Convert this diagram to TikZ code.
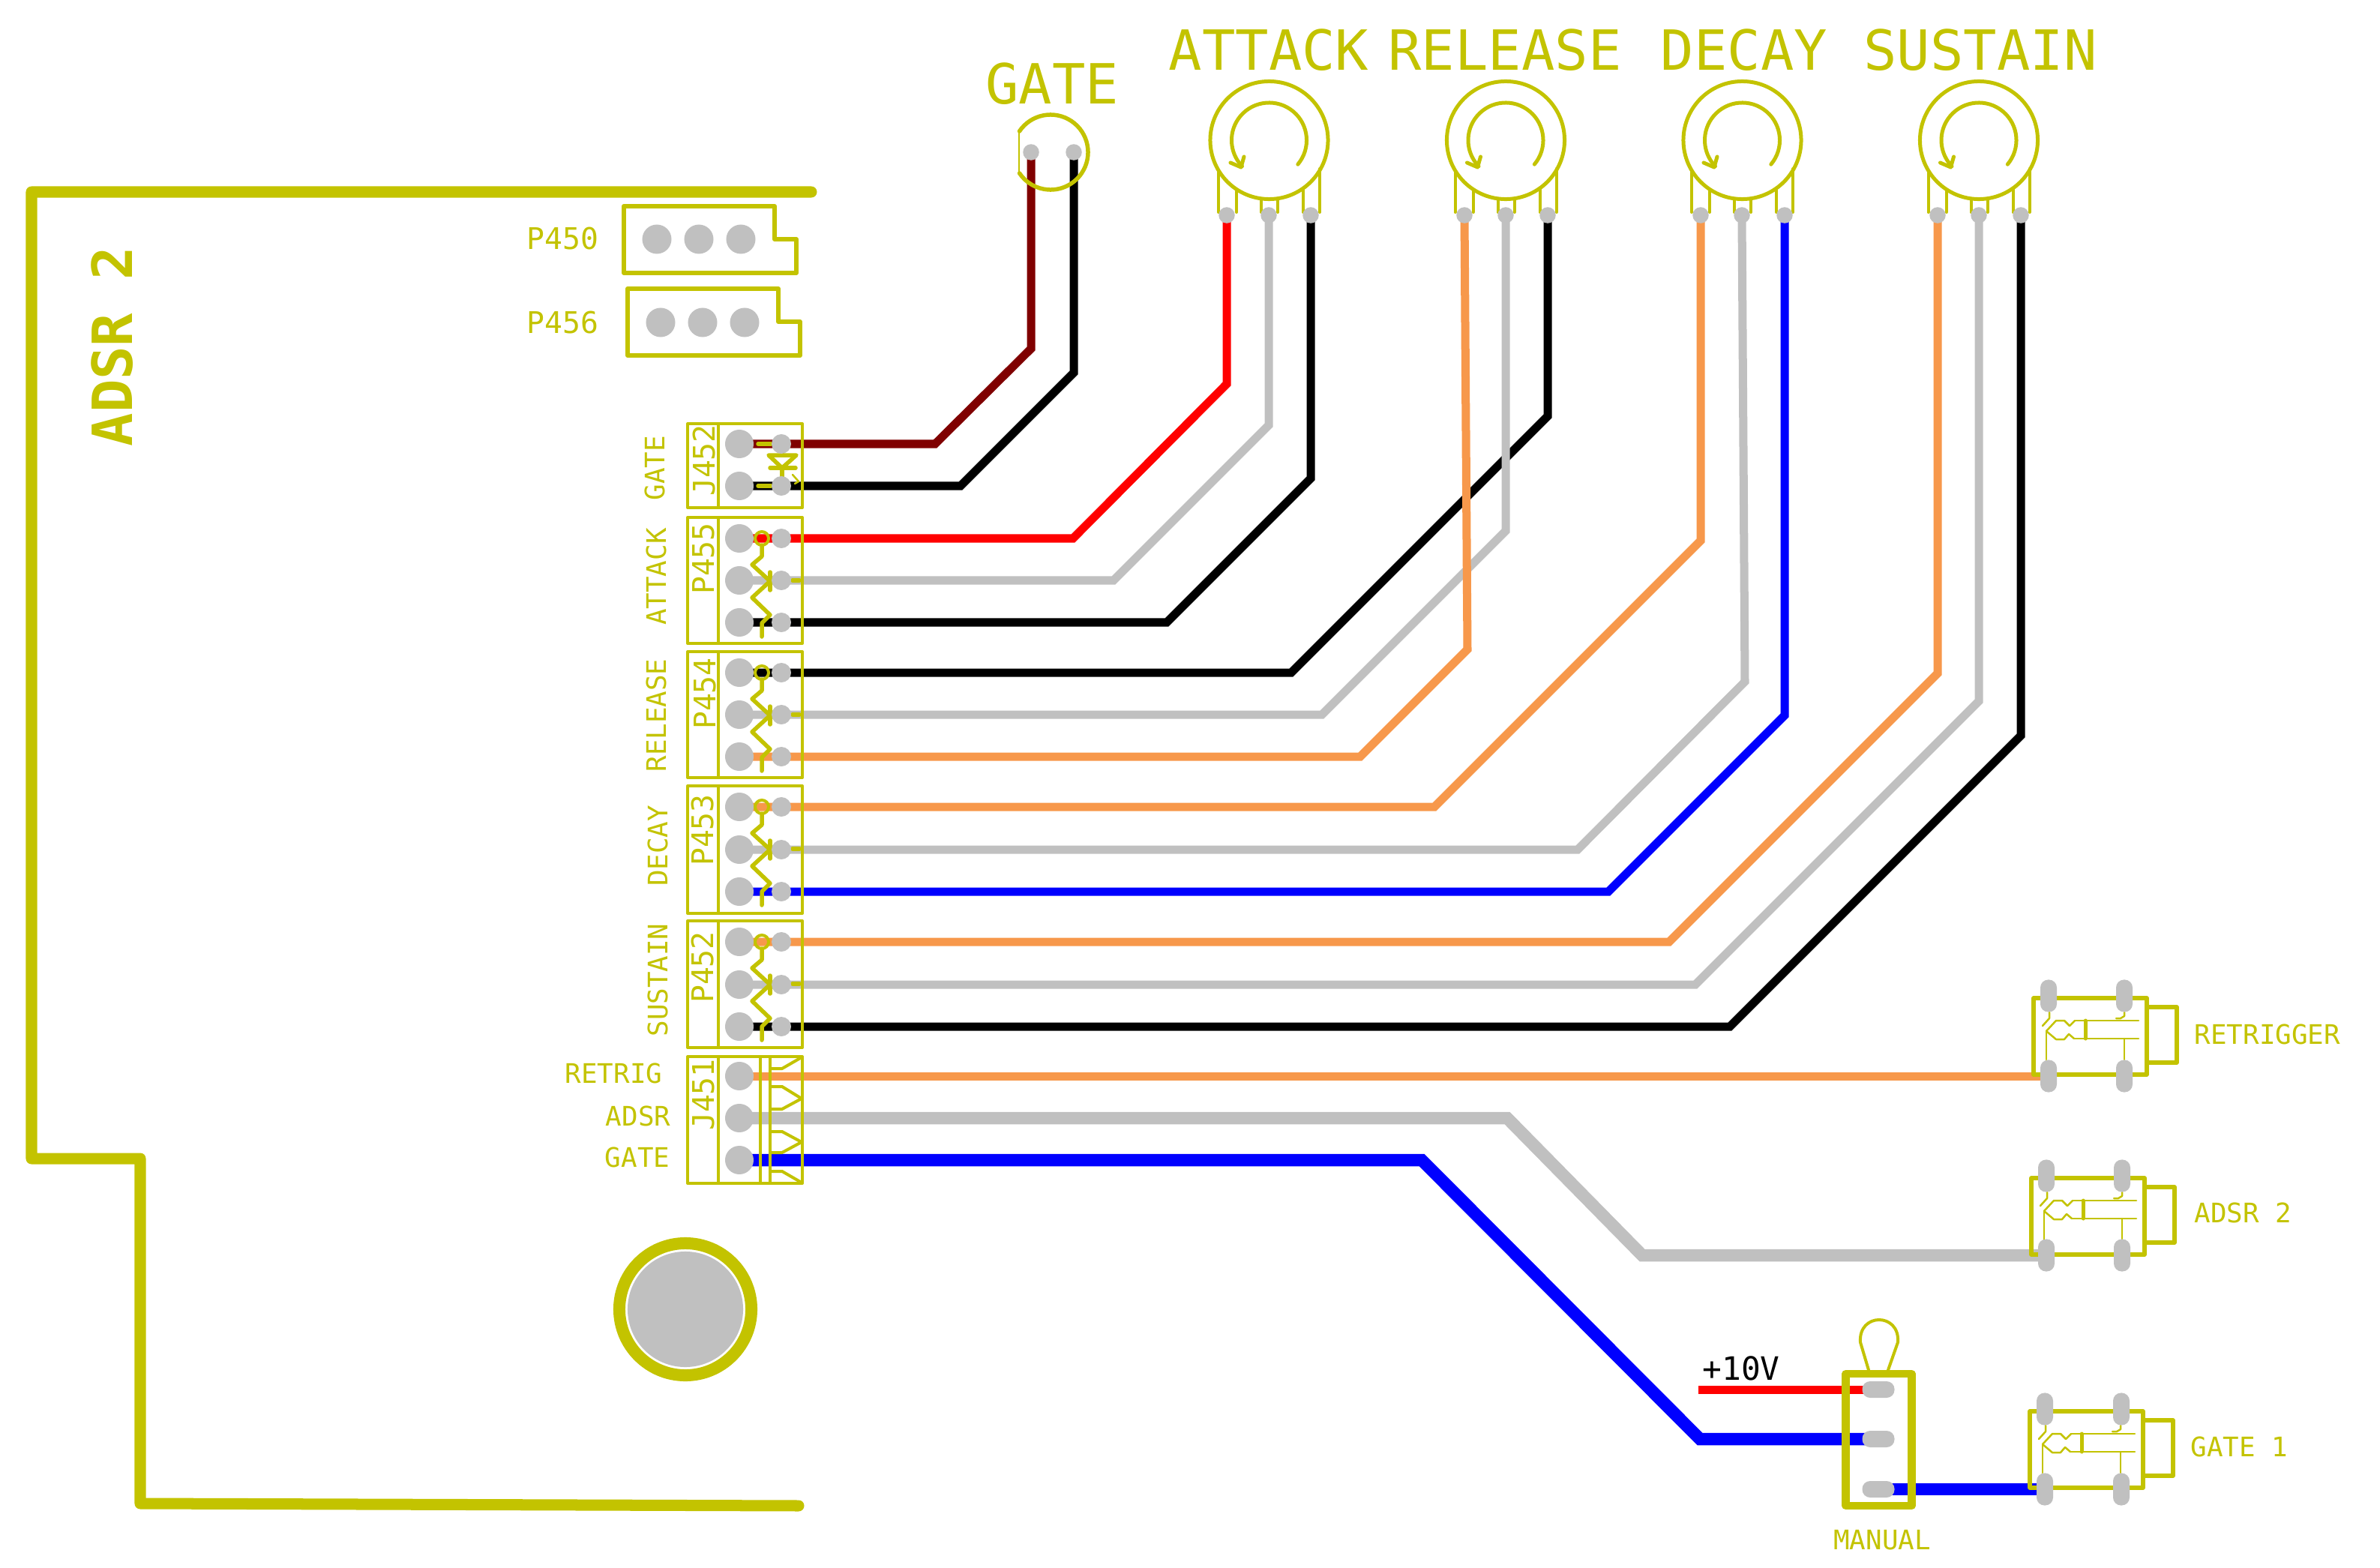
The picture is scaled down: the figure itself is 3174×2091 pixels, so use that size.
\documentclass[tikz,border=0pt]{standalone}
\usepackage{fontspec}
\setmonofont{DejaVu Sans Mono}
\usepackage{tikz}

\definecolor{pcbyellow}{RGB}{195,195,0}
\definecolor{padgray}{RGB}{192,192,192}
\definecolor{wiremaroon}{RGB}{128,0,0}
\definecolor{wireorange}{RGB}{247,152,75}

\pgfdeclarelayer{wires}
\pgfsetlayers{wires,main}

\tikzset{
  sym/.style={draw=pcbyellow, line width=0.04cm, line cap=round, line join=round},
  symheavy/.style={sym, line width=0.055cm},
  bigpad/.style={shape=circle, fill=padgray, inner sep=0pt, minimum size=0.38cm},
  smallpad/.style={shape=circle, fill=padgray, inner sep=0pt, minimum size=0.26cm},
  pinpad/.style={shape=circle, fill=padgray, inner sep=0pt, minimum size=0.215cm},
  headerpad/.style={shape=circle, fill=padgray, inner sep=0pt, minimum size=0.39cm},
  lugpad/.style={shape=rectangle, rounded corners=0.105cm, fill=padgray, inner sep=0pt, minimum width=0.22cm, minimum height=0.43cm},
  swpad/.style={shape=rectangle, rounded corners=0.105cm, fill=padgray, inner sep=0pt, minimum width=0.43cm, minimum height=0.22cm},
  hole/.style={shape=circle, fill=padgray, inner sep=0pt, minimum size=1.54cm},
  wire/.style={line width=0.11cm},
  fatwire/.style={line width=0.165cm},
  biglabel/.style={text=pcbyellow, inner sep=0pt, font=\ttfamily\fontsize{21}{21}\selectfont},
  smalllabel/.style={text=pcbyellow, inner sep=0pt, font=\ttfamily\fontsize{10.2}{10.2}\selectfont},
  refdes/.style={text=pcbyellow, inner sep=0pt, font=\ttfamily\fontsize{11.3}{11.3}\selectfont},
}

\newcommand{\potsymbol}[1]{
  \begin{scope}[shift={(#1,187)}]
    \draw[sym, line width=0.05cm] (0,0) circle[radius=0.785cm];
    \draw[sym, line width=0.05cm] (-40:0.5cm) arc[start angle=-40, end angle=224, radius=0.5cm];
    \draw[sym, line width=0.05cm] (-33.5,22) -- (-37.5,36) -- (-51.5,30);
    \draw[sym] (-67.5,43) -- (-67.5,96);
    \draw[sym] (-43.5,68) -- (-43.5,96);
    \draw[sym] (-10.5,80) -- (-10.5,96);
    \draw[sym] (11.5,80) -- (11.5,96);
    \draw[sym] (45.5,65) -- (45.5,96);
    \draw[sym] (67.5,38) -- (67.5,96);
  \end{scope}
}

\newcommand{\trimsymbol}[1]{
  \begin{scope}[shift={(0,#1)}]
    \draw[sym] (1016,0) circle[radius=0.09cm];
    \draw[symheavy] (1016,9) -- (1016,24) -- (1003,35) -- (1027,57) -- (1003,79) -- (1027,102) -- (1016,113) -- (1016,131);
    \draw[symheavy] (1027,45) -- (1027,69);
    \draw[symheavy] (1057,56) -- (1066,56);
  \end{scope}
}

\newcommand{\jacksymbol}[2]{
  \begin{scope}[shift={(#1,#2)}]
    \draw[symheavy] (-20,3) rectangle (131,105);
    \draw[symheavy] (131,15) -- (171,15) -- (171,89) -- (131,89);
    \draw[sym, line width=0.025cm] (1,22) -- (1,30) -- (-8,40);
    \draw[sym, line width=0.025cm] (101,22) -- (101,27) -- (96,30) -- (90,30);
    \draw[sym, line width=0.025cm] (35,33) -- (120,33);
    \draw[sym, line width=0.025cm] (35,57) -- (120,57);
    \draw[sym, line width=0.05cm] (49,33) -- (49,57);
    \draw[sym, line width=0.025cm] (-3,47) -- (10,33) -- (21,33) -- (28,40) -- (35,33);
    \draw[sym, line width=0.025cm] (-3,47) -- (10,58) -- (21,58) -- (27,51) -- (34,57);
    \draw[sym, line width=0.025cm] (-3,47) -- (-3,85);
    \draw[sym, line width=0.025cm] (101,57) -- (101,85);
  \end{scope}
}

\begin{document}
\begin{tikzpicture}[x=0.01cm, y=-0.01cm]
\useasboundingbox (0,0) rectangle (3174,2091);

\draw[sym, line width=0.15cm] (1082,256) -- (42,256) -- (42,1545) -- (187,1545) -- (187,2005) -- (1065,2008);
\node[text=pcbyellow, inner sep=0pt, rotate=90, font=\ttfamily\bfseries\fontsize{21}{21}\selectfont](boardname) at (150,462) {ADSR 2};

\draw[sym, line width=0.06cm] (832,275) -- (1033,275) -- (1033,319) -- (1062,319) -- (1062,364) -- (832,364) -- cycle;
\draw[sym, line width=0.06cm] (837,385) -- (1038,385) -- (1038,429) -- (1067,429) -- (1067,474) -- (837,474) -- cycle;
\node[refdes, anchor=east](p450) at (799,318) {P450};
\node[refdes, anchor=east](p456) at (799,430) {P456};

\draw[sym] (917,565) rectangle (1070,677);
\draw[sym] (958,565) -- (958,677);
\draw[sym] (917,690) rectangle (1070,858);
\draw[sym] (958,690) -- (958,858);
\draw[sym] (917,869) rectangle (1070,1037);
\draw[sym] (958,869) -- (958,1037);
\draw[sym] (917,1048) rectangle (1070,1218);
\draw[sym] (958,1048) -- (958,1218);
\draw[sym] (917,1228) rectangle (1070,1397);
\draw[sym] (958,1228) -- (958,1397);
\draw[sym] (917,1409) rectangle (1070,1578);
\draw[sym] (958,1409) -- (958,1578);
\draw[sym] (1014,1409) -- (1014,1578);
\draw[sym] (1027,1409) -- (1027,1578);
\draw[sym] (1027,1425) -- (1043,1425) -- (1069,1410);
\draw[sym] (1027,1449) -- (1043,1449) -- (1069,1465) -- (1043,1479) -- (1027,1479);
\draw[sym] (1027,1509) -- (1043,1509) -- (1069,1523) -- (1043,1537) -- (1027,1537);
\draw[sym] (1027,1562) -- (1043,1562) -- (1069,1577);

\draw[symheavy] (1011,592) -- (1028,592);
\draw[symheavy] (1011,648) -- (1028,648);
\draw[symheavy] (1025,607) -- (1062,607) -- (1043,624) -- cycle;
\draw[symheavy] (1027,624) -- (1061,624);
\draw[symheavy] (1043,624) -- (1043,637);
\draw[symheavy] (1043,607) -- (1043,598);
\draw[sym, line width=0.025cm] (1057,633) -- (1065,642) -- (1060,645);

\trimsymbol{718}
\trimsymbol{897}
\trimsymbol{1076}
\trimsymbol{1256}

\node[refdes, rotate=90](j452) at (939,614) {J452};
\node[refdes, rotate=90](p455) at (938,745) {P455};
\node[refdes, rotate=90](p454) at (940,925) {P454};
\node[refdes, rotate=90](p453) at (937,1107) {P453};
\node[refdes, rotate=90](p452) at (937,1290) {P452};
\node[refdes, rotate=90](j451) at (938,1460) {J451};

\node[smalllabel, rotate=90](lgate) at (873,624) {GATE};
\node[smalllabel, rotate=90](lattack) at (875,769) {ATTACK};
\node[smalllabel, rotate=90](lrelease) at (875,954) {RELEASE};
\node[smalllabel, rotate=90](ldecay) at (877,1128) {DECAY};
\node[smalllabel, rotate=90](lsustain) at (877,1307) {SUSTAIN};
\node[smalllabel, anchor=east](lretrig) at (884,1431) {RETRIG};
\node[smalllabel, anchor=east](ladsr) at (895,1488) {ADSR};
\node[smalllabel, anchor=east](lgatein) at (894,1543) {GATE};

\node[biglabel](tgate) at (1403,112) {GATE};
\node[biglabel](tattack) at (1692,67) {ATTACK};
\node[biglabel](trelease) at (2007,67) {RELEASE};
\node[biglabel](tdecay) at (2326,67) {DECAY};
\node[biglabel](tsustain) at (2641,67) {SUSTAIN};

\draw[sym, line width=0.055cm] (146:0.5cm) ++(1401,203) arc[start angle=146, end angle=-146, radius=0.5cm];
\draw[sym, line width=0.025cm] (1359,175) -- (1359,232);

\potsymbol{1692.5}
\potsymbol{2008}
\potsymbol{2323.5}
\potsymbol{2639}

\jacksymbol{2732}{1328}
\jacksymbol{2729}{1568}
\jacksymbol{2727}{1879}
\node[smalllabel, anchor=west](lretrigger) at (2926,1379) {RETRIGGER};
\node[smalllabel, anchor=west](ladsrout) at (2926,1617) {ADSR 2};
\node[smalllabel, anchor=west](lgateout) at (2921,1929) {GATE 1};

\draw[sym, line width=0.105cm] (2461.5,1832) rectangle (2549.5,2008);
\draw[sym] (2492,1827) -- (2481,1790) .. controls (2478,1750) and (2534,1750) .. (2531,1790) -- (2518,1827);
\node[smalllabel](lmanual) at (2510,2054) {MANUAL};
\node[text=black, inner sep=0pt, font=\ttfamily\fontsize{12.2}{12.2}\selectfont](lten) at (2322,1825) {+10V};

\draw[sym, line width=0.16cm] (914,1746) circle[radius=0.88cm];
\node[hole](hole1) at (914,1746) {};

\node[headerpad](a1) at (876,319) {};
\node[headerpad](a2) at (932,319) {};
\node[headerpad](a3) at (988,319) {};
\node[headerpad](b1) at (881,430) {};
\node[headerpad](b2) at (937,430) {};
\node[headerpad](b3) at (993,430) {};

\node[bigpad](j452a) at (986,592) {};
\node[bigpad](j452b) at (986,648) {};
\node[smallpad](s452a) at (1042,592) {};
\node[smallpad](s452b) at (1042,648) {};

\node[bigpad](p455a) at (986,718) {};
\node[bigpad](p455b) at (986,774) {};
\node[bigpad](p455c) at (986,830) {};
\node[smallpad](s455a) at (1042,718) {};
\node[smallpad](s455b) at (1042,774) {};
\node[smallpad](s455c) at (1042,830) {};

\node[bigpad](p454a) at (986,897) {};
\node[bigpad](p454b) at (986,953) {};
\node[bigpad](p454c) at (986,1009) {};
\node[smallpad](s454a) at (1042,897) {};
\node[smallpad](s454b) at (1042,953) {};
\node[smallpad](s454c) at (1042,1009) {};

\node[bigpad](p453a) at (986,1076) {};
\node[bigpad](p453b) at (986,1133) {};
\node[bigpad](p453c) at (986,1189) {};
\node[smallpad](s453a) at (1042,1076) {};
\node[smallpad](s453b) at (1042,1133) {};
\node[smallpad](s453c) at (1042,1189) {};

\node[bigpad](p452a) at (986,1256) {};
\node[bigpad](p452b) at (986,1313) {};
\node[bigpad](p452c) at (986,1369) {};
\node[smallpad](s452x) at (1042,1256) {};
\node[smallpad](s452y) at (1042,1313) {};
\node[smallpad](s452z) at (1042,1369) {};

\node[bigpad](j451a) at (986,1435) {};
\node[bigpad](j451b) at (986,1491) {};
\node[bigpad](j451c) at (986,1547) {};

\node[pinpad](gatea) at (1375,203) {};
\node[pinpad](gateb) at (1432,203) {};

\node[pinpad](atka) at (1636,287) {};
\node[pinpad](atkb) at (1692,287) {};
\node[pinpad](atkc) at (1748,287) {};
\node[pinpad](rela) at (1953,287) {};
\node[pinpad](relb) at (2008,287) {};
\node[pinpad](relc) at (2064,287) {};
\node[pinpad](deca) at (2268,287) {};
\node[pinpad](decb) at (2323,287) {};
\node[pinpad](decc) at (2380,287) {};
\node[pinpad](susa) at (2584,287) {};
\node[pinpad](susb) at (2639,287) {};
\node[pinpad](susc) at (2695,287) {};

\node[lugpad](rtga) at (2732,1328) {};
\node[lugpad](rtgb) at (2833,1328) {};
\node[lugpad](rtgc) at (2732,1435) {};
\node[lugpad](rtgd) at (2833,1435) {};
\node[lugpad](adra) at (2729,1568) {};
\node[lugpad](adrb) at (2830,1568) {};
\node[lugpad](adrc) at (2729,1674) {};
\node[lugpad](adrd) at (2830,1674) {};
\node[lugpad](gata) at (2727,1879) {};
\node[lugpad](gatb) at (2829,1879) {};
\node[lugpad](gatc) at (2727,1986) {};
\node[lugpad](gatd) at (2829,1986) {};

\node[swpad](sw1) at (2505,1853) {};
\node[swpad](sw2) at (2505,1919) {};
\node[swpad](sw3) at (2505,1986) {};
\coordinate (tenv) at (2265,1853);

\begin{pgfonlayer}{wires}
\draw[wire, wiremaroon] (j452a.center) -- (1247,592) -- (1375,465) -- (gatea.center);
\draw[wire, black] (j452b.center) -- (1281,648) -- (1432,497) -- (gateb.center);

\draw[wire, red] (p455a.center) -- (1431,718) -- (1636,512) -- (atka.center);
\draw[wire, padgray] (p455b.center) -- (1485,774) -- (1692,567) -- (atkb.center);
\draw[wire, black] (p455c.center) -- (1556,830) -- (1748,638) -- (atkc.center);

\draw[wire, black] (p454a.center) -- (1722,897) -- (2064,555) -- (relc.center);
\draw[wire, padgray] (p454b.center) -- (1763,953) -- (2008,708) -- (relb.center);
\draw[wire, wireorange] (p454c.center) -- (1814,1009) -- (1957,866) -- (rela.center);

\draw[wire, wireorange] (p453a.center) -- (1913,1076) -- (2268,721) -- (deca.center);
\draw[wire, padgray] (p453b.center) -- (2104,1133) -- (2327,909) -- (decb.center);
\draw[wire, blue] (p453c.center) -- (2145,1189) -- (2380,954) -- (decc.center);

\draw[wire, wireorange] (p452a.center) -- (2226,1256) -- (2584,898) -- (susa.center);
\draw[wire, padgray] (p452b.center) -- (2261,1313) -- (2639,935) -- (susb.center);
\draw[wire, black] (p452c.center) -- (2307,1369) -- (2695,981) -- (susc.center);

\draw[wire, wireorange] (j451a.center) -- (rtgc.center);
\draw[fatwire, padgray] (j451b.center) -- (2010,1491) -- (2190,1674) -- (adrc.center);
\draw[fatwire, blue] (j451c.center) -- (1896,1547) -- (2267,1919) -- (sw2.center);

\draw[wire, red] (tenv) -- (sw1.center);
\draw[fatwire, blue] (sw3.center) -- (gatc.center);
\end{pgfonlayer}
\end{tikzpicture}
\end{document}
